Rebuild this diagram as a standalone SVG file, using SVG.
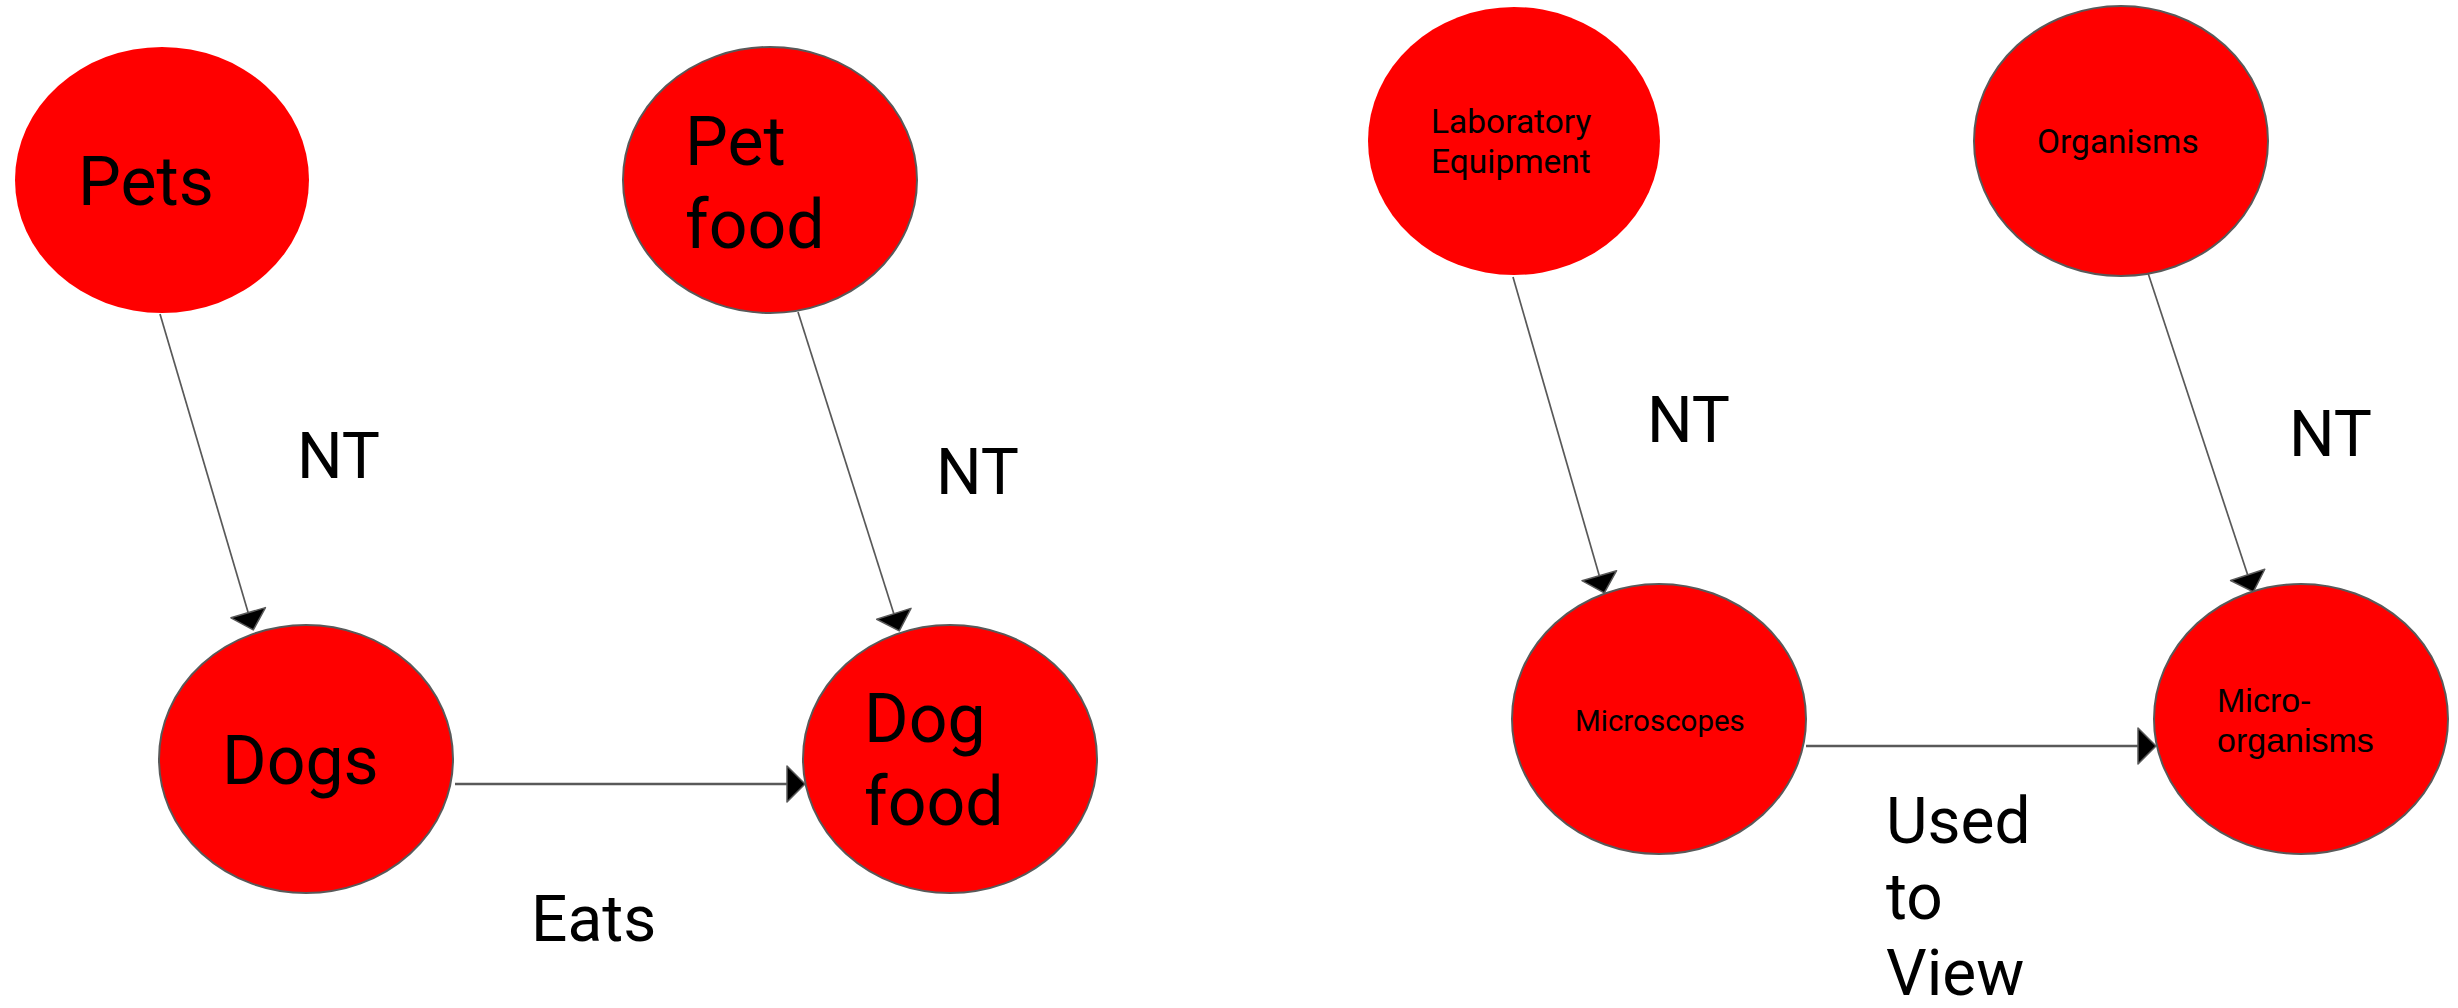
<svg xmlns="http://www.w3.org/2000/svg" width="2458" height="1008" viewBox="0 0 2458 1008">
<style>
.node{fill:#ff0000;}
.ol{stroke:#595959;stroke-width:2;}
.big{font-family:Roboto,"Liberation Sans",sans-serif;font-size:68px;fill:#000;}
.lbl{font-family:Roboto,"Liberation Sans",sans-serif;font-size:64px;fill:#000;}
.sm{font-family:Roboto,"Liberation Sans",sans-serif;font-size:33.5px;fill:#000;}
.ar{font-family:"Liberation Sans",Arial,sans-serif;font-size:34px;fill:#000;}
.thin{stroke:#595959;stroke-width:1.7;fill:none;marker-end:url(#ah);}
.thick{stroke:#595959;stroke-width:2.6;fill:none;marker-end:url(#ah);}
</style>
<defs>
<marker id="ah" markerUnits="userSpaceOnUse" viewBox="-2 -2 22 40" markerWidth="22" markerHeight="40" refX="17" refY="18" orient="auto">
<path d="M0,0 L18,18 L0,36 Z" fill="#000" stroke="#595959" stroke-width="1.5" stroke-linejoin="round"/>
</marker>
</defs>
<rect width="2458" height="1008" fill="#fff"/>
<g id="connectors">
<line class="thin" x1="160" y1="314" x2="253" y2="629"/>
<line class="thin" x1="798" y1="312" x2="899" y2="630"/>
<line class="thick" x1="455" y1="784" x2="804" y2="784"/>
<line class="thin" x1="1513" y1="277" x2="1604" y2="592"/>
<line class="thin" x1="2148" y1="273" x2="2253" y2="591"/>
<line class="thick" x1="1806" y1="746" x2="2155" y2="746"/>
<text class="lbl" x="297" y="478">NT</text>
<text class="lbl" x="936" y="494">NT</text>
<text class="lbl" x="1647" y="442">NT</text>
<text class="lbl" x="2289" y="456">NT</text>
<text class="lbl" x="531" y="941">Eats</text>
<text class="lbl" x="1886" y="843">Used</text>
<text class="lbl" x="1886" y="919">to</text>
<text class="lbl" x="1886" y="995">View</text>
</g>
<g id="pets">
<ellipse class="node" cx="162" cy="180" rx="147" ry="133"/>
<text class="big" x="78" y="205">Pets</text>
</g>
<g id="petfood">
<ellipse class="node ol" cx="770" cy="180" rx="147" ry="133"/>
<text class="big" x="685" y="165">Pet</text>
<text class="big" x="685" y="248">food</text>
</g>
<g id="dogs">
<ellipse class="node ol" cx="306" cy="759" rx="147" ry="134"/>
<text class="big" x="222" y="784">Dogs</text>
</g>
<g id="dogfood">
<ellipse class="node ol" cx="950" cy="759" rx="147" ry="134"/>
<text class="big" x="864" y="742">Dog</text>
<text class="big" x="864" y="825">food</text>
</g>
<g id="lab">
<ellipse class="node" cx="1514" cy="141" rx="146" ry="134"/>
<text class="sm" x="1431" y="133">Laboratory</text>
<text class="sm" x="1431" y="173">Equipment</text>
</g>
<g id="organisms">
<ellipse class="node ol" cx="2121" cy="141" rx="147" ry="135"/>
<text class="sm" x="2037" y="153">Organisms</text>
</g>
<g id="microscopes">
<ellipse class="node ol" cx="1659" cy="719" rx="147" ry="135"/>
<text class="sm" x="1575" y="731" style="font-size:29.5px">Microscopes</text>
</g>
<g id="microorganisms">
<ellipse class="node ol" cx="2301" cy="719" rx="147" ry="135"/>
<text class="ar" x="2217" y="712">Micro-</text>
<text class="ar" x="2217" y="752">organisms</text>
</g>
</svg>
